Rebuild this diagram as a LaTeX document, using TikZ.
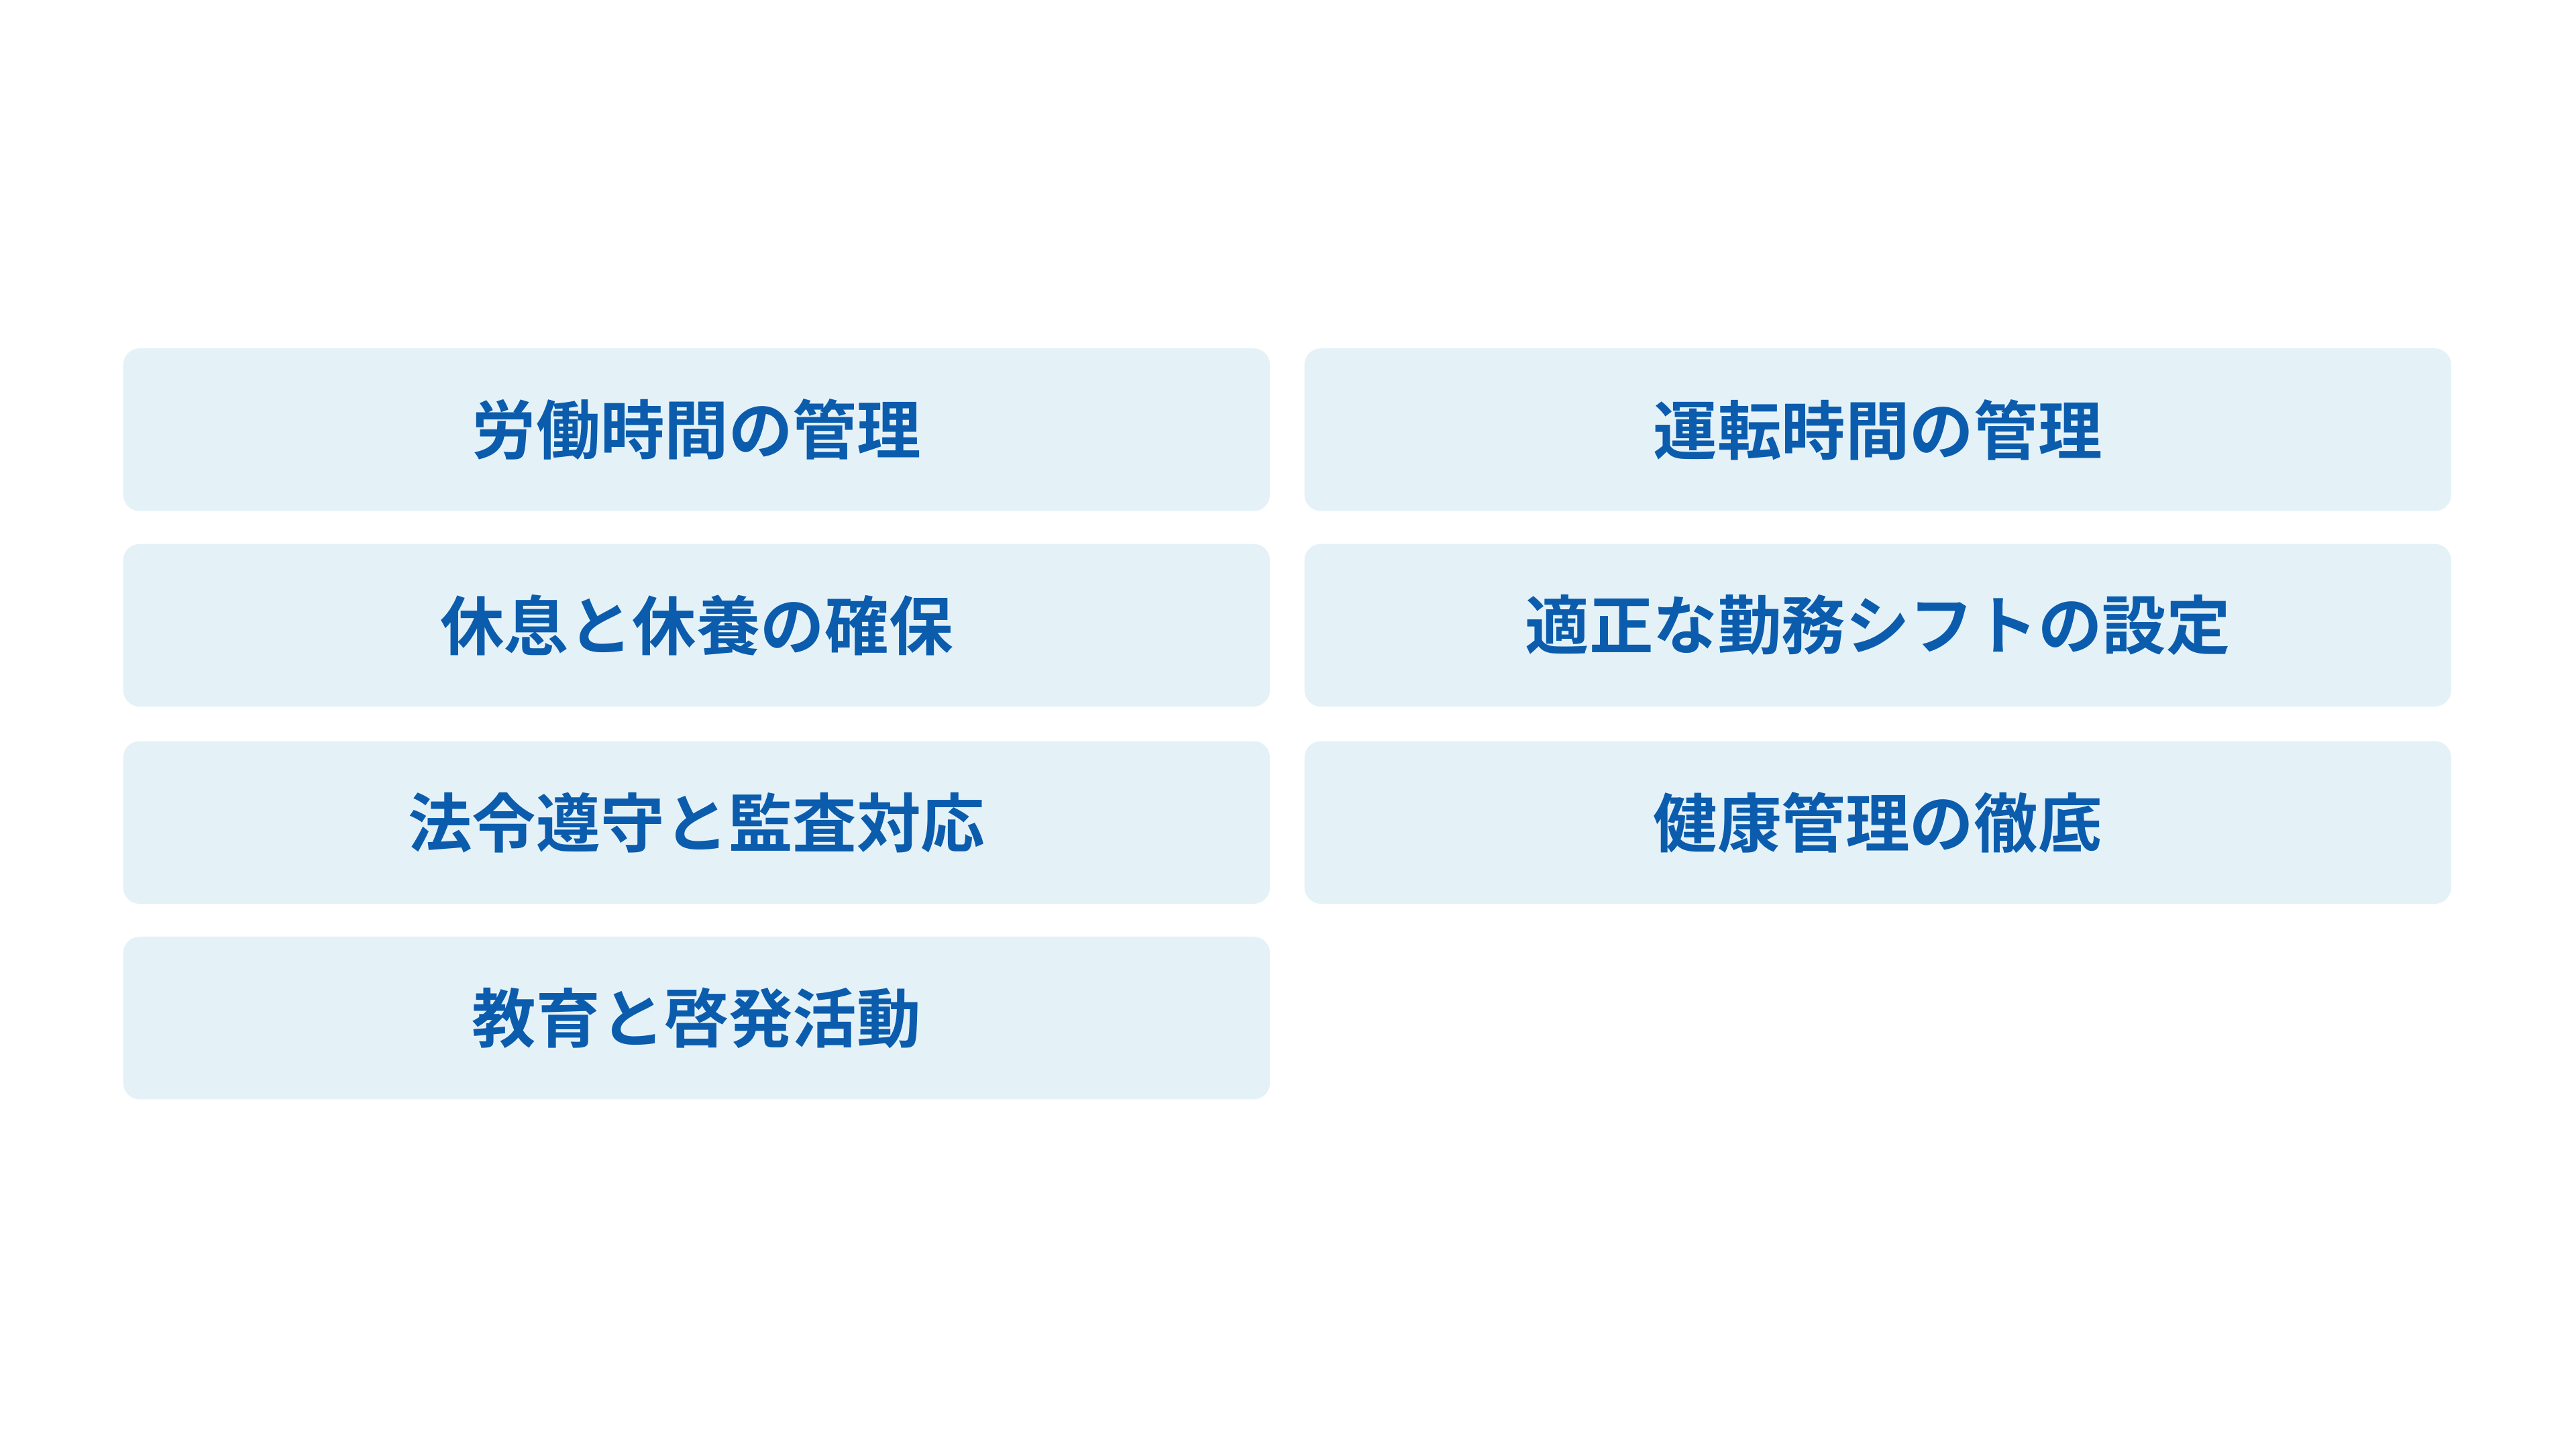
\documentclass[tikz,border=0pt]{standalone}
\usepackage{fontspec}
\newfontfamily\cjk{Noto Sans CJK JP}[BoldFont={Noto Sans CJK JP Bold}]
\definecolor{boxfill}{HTML}{E4F2F8}
\definecolor{boxtext}{HTML}{0B5CAD}
\tikzset{item/.style={fill=boxfill,draw=none,rounded corners=0.1cm,minimum width=6.98cm,minimum height=0.99cm,inner sep=0pt,font=\cjk\bfseries\fontsize{11.1pt}{13pt}\selectfont,text=boxtext}}
\begin{document}
\begin{tikzpicture}
\useasboundingbox (0,0) rectangle (15.68,8.82);
\fill[white] (0,0) rectangle (15.68,8.82);
\node[item] (a) at (4.24,8.82-2.615) {労働時間の管理};
\node[item] (b) at (11.43,8.82-2.615) {運転時間の管理};
\node[item] (c) at (4.24,8.82-3.805) {休息と休養の確保};
\node[item] (d) at (11.43,8.82-3.805) {適正な勤務シフトの設定};
\node[item] (e) at (4.24,8.82-5.005) {法令遵守と監査対応};
\node[item] (f) at (11.43,8.82-5.005) {健康管理の徹底};
\node[item] (g) at (4.24,8.82-6.195) {教育と啓発活動};
\end{tikzpicture}
\end{document}
